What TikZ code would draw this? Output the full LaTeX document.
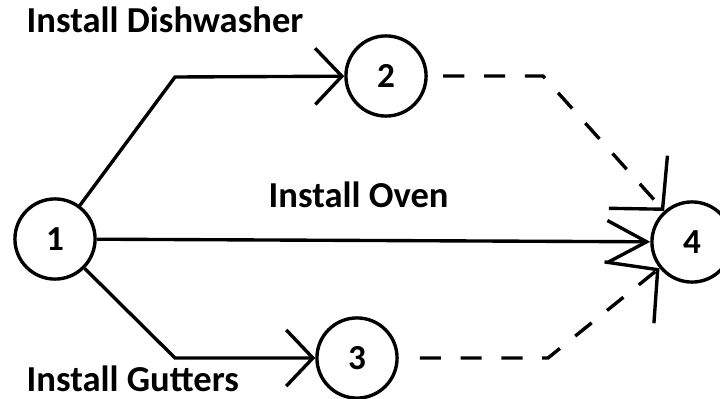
\documentclass[tikz,border=0pt]{standalone}
\usepackage{fontspec}
\setmainfont{Carlito}
\usepackage{tikz}
\usetikzlibrary{arrows.meta}

\begin{document}
\begin{tikzpicture}[x=0.025cm,y=-0.025cm,line width=2.4pt,
  event/.style={draw,circle,minimum size=57pt,inner sep=0pt,font=\bfseries\fontsize{25}{28}\selectfont},
  activity/.style={anchor=base west,inner sep=0pt,text depth=0pt,font=\bfseries\fontsize{26}{30}\selectfont},
  barb/.style={-{Straight Barb[length=19pt,width=40pt]}},
  longbarb/.style={-{Straight Barb[length=28pt,width=30pt]}},
  widebarb/.style={-{Straight Barb[length=26pt,width=56pt]}},
  dummy/.style={dash pattern=on 15pt off 14pt}]
\useasboundingbox (0,0) rectangle (720,399);
\clip (0,0) rectangle (720,399);
% events
\node[event](n1)at(55,239){1};
\node[event](n2)at(386,76){2};
\node[event](n3)at(357,358){3};
\node[event](n4)at(692,242){4};
% bends
\coordinate(c12)at(175,77);
\coordinate(c13)at(175,358);
\coordinate(c24)at(543,76);
\coordinate(c34)at(548,358);
% activities
\draw[barb](n1)--(c12)--(n2);
\draw[barb](n1)--(c13)--(n3);
\draw[longbarb](n1)--(n4);
\draw[widebarb,dummy,shorten <=11pt](n2)--(c24)--(n4);
\draw[widebarb,dummy,shorten <=15pt](n3)--(c34)--(n4);
% labels
\node[activity](l12)at(25,33){Install Dishwasher};
\node[activity](l14)at(267,207){Install Oven};
\node[activity](l13)at(25,391){Install Gutters};
\end{tikzpicture}
\end{document}
